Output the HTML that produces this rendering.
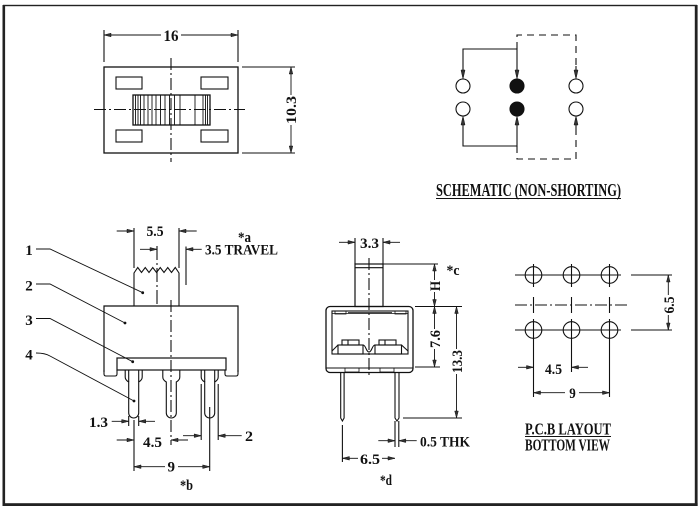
<!DOCTYPE html>
<html><head><meta charset="utf-8"><style>
html,body{margin:0;padding:0;background:#fff;}
svg{display:block;}
text{font-family:"Liberation Serif",serif;font-weight:bold;fill:#111;}
</style></head><body>
<svg width="700" height="509" viewBox="0 0 700 509" xmlns="http://www.w3.org/2000/svg">
<rect width="700" height="509" fill="#fff"/>
<!-- frame -->
<g fill="#222">
<rect x="3" y="4.8" width="694" height="1.4"/>
<rect x="2.5" y="5" width="2.6" height="501"/>
<rect x="694.8" y="5" width="2.8" height="501"/>
<rect x="3" y="503.2" width="694.6" height="2.8"/>
</g>

<g stroke="#111" fill="none" stroke-width="1.1">
<!-- ===== TOP VIEW ===== -->
<line x1="104" y1="30" x2="104" y2="62"/>
<line x1="238" y1="30" x2="238" y2="62"/>
<line x1="104" y1="35" x2="161" y2="35" stroke-width="0.9"/>
<line x1="181" y1="35" x2="238" y2="35" stroke-width="0.9"/>
<rect x="104" y="67" width="134" height="86" stroke-width="1.3"/>
<rect x="116" y="77" width="26" height="12"/>
<rect x="201" y="77" width="27" height="12"/>
<rect x="116" y="130" width="26" height="12"/>
<rect x="201" y="130" width="27" height="12"/>
<rect x="133" y="95" width="77" height="30" stroke-width="1.3"/>
<g stroke-width="0.9">
<line x1="135.5" y1="95" x2="135.5" y2="125"/>
<line x1="138" y1="95" x2="138" y2="125"/>
<line x1="140.5" y1="95" x2="140.5" y2="125"/>
<line x1="144" y1="95" x2="144" y2="125"/>
<line x1="148" y1="95" x2="148" y2="125"/>
<line x1="152" y1="95" x2="152" y2="125"/>
<line x1="156" y1="95" x2="156" y2="125"/>
<line x1="160.5" y1="95" x2="160.5" y2="125"/>
<line x1="165" y1="95" x2="165" y2="125"/>
<line x1="169.5" y1="95" x2="169.5" y2="125"/>
<line x1="174.5" y1="95" x2="174.5" y2="125"/>
<line x1="180" y1="95" x2="180" y2="125"/>
<line x1="195" y1="95" x2="195" y2="125"/>
<line x1="203" y1="95" x2="203" y2="125"/>
<line x1="205.5" y1="95" x2="205.5" y2="125"/>
<line x1="207.5" y1="95" x2="207.5" y2="125"/>
</g>
<line x1="171" y1="58" x2="171" y2="162" stroke-dasharray="12,3,2,3"/>
<line x1="94" y1="109.5" x2="245" y2="109.5" stroke-dasharray="12,3,2,3"/>
<line x1="242" y1="67" x2="295" y2="67"/>
<line x1="242" y1="153" x2="295" y2="153"/>
<line x1="291" y1="67" x2="291" y2="95" stroke-width="0.9"/>
<line x1="291" y1="125" x2="291" y2="153" stroke-width="0.9"/>

<!-- ===== SCHEMATIC ===== -->
<path d="M463,77 V49 H517 V77"/>
<path d="M517,49 V35 H576 V66" stroke-dasharray="7,5"/>
<line x1="576" y1="66" x2="576" y2="77"/>
<path d="M463,118 V146 H517 V118"/>
<path d="M517,146 V159 H576 V129" stroke-dasharray="7,5"/>
<line x1="576" y1="129" x2="576" y2="118"/>
<circle cx="463" cy="86" r="7"/>
<circle cx="576" cy="86" r="7"/>
<circle cx="463" cy="109" r="7"/>
<circle cx="576" cy="109" r="7"/>
<circle cx="517" cy="86" r="7" fill="#111"/>
<circle cx="517" cy="109" r="7" fill="#111"/>
<line x1="436" y1="198.5" x2="621" y2="198.5"/>

<!-- ===== SIDE VIEW ===== -->
<!-- leaders -->
<path d="M36,249 H50 L142.7,292.7" stroke-width="0.9"/>
<path d="M36,284 H50 L125,323" stroke-width="0.9"/>
<path d="M36,318.5 H50 L132.7,361.7" stroke-width="0.9"/>
<path d="M36,353 Q45,353 50,356 L134,401" stroke-width="0.9"/>
<!-- actuator -->
<polyline points="134,306 134,273 137.75,267.5 141.5,272.5 145.25,267.5 149,272.5 152.75,267.5 156.5,272.5 160.25,267.5 164,272.5 167.75,267.5 171.5,272.5 175.25,267.5 179,273 179,306"/>
<line x1="157" y1="246" x2="157" y2="306" stroke-dasharray="14,3,2,3"/>
<line x1="186" y1="246.5" x2="186" y2="285"/>
<!-- body -->
<path d="M104,372 V306 H238 V372" stroke-width="1.2"/>
<rect x="117" y="358" width="109" height="12" stroke-width="1.2"/>
<path d="M104,370 V374 Q104,376 106,376 H115 Q117,376 117,374 V370"/>
<path d="M225,370 V374 Q225,376 227,376 H236 Q238,376 238,374 V370"/>
<line x1="171" y1="300" x2="171" y2="445" stroke-dasharray="12,3,2,3"/>
<!-- pins -->
<path d="M125.2,370 V377 Q125.2,380 128.7,382 V413 A5,5 0 0 0 138.7,413 V382 Q142.2,380 142.2,377 V370"/>
<line x1="128.7" y1="370" x2="128.7" y2="382"/><line x1="138.7" y1="370" x2="138.7" y2="382"/>
<path d="M162.8,370 V377 Q162.8,380 166.3,382 V413 A5,5 0 0 0 176.3,413 V382 Q179.8,380 179.8,377 V370"/>
<path d="M201.2,370 V377 Q201.2,380 204.7,382 V413 A5,5 0 0 0 214.7,413 V382 Q218.2,380 218.2,377 V370"/>
<line x1="204.7" y1="370" x2="204.7" y2="382"/><line x1="214.7" y1="370" x2="214.7" y2="382"/>
<!-- side dims -->
<line x1="134" y1="228" x2="134" y2="268"/>
<line x1="179" y1="228" x2="179" y2="268"/>
<line x1="116.7" y1="231" x2="134" y2="231" stroke-width="0.9"/>
<line x1="196.7" y1="231" x2="179" y2="231" stroke-width="0.9"/>
<line x1="140" y1="249.3" x2="157" y2="249.3" stroke-width="0.9"/>
<line x1="201.7" y1="249.3" x2="186" y2="249.3" stroke-width="0.9"/>
<line x1="128.7" y1="416" x2="128.7" y2="426"/>
<line x1="138.7" y1="416" x2="138.7" y2="426"/>
<line x1="111.7" y1="421.3" x2="128.7" y2="421.3" stroke-width="0.9"/>
<line x1="155" y1="421.3" x2="138.7" y2="421.3" stroke-width="0.9"/>
<line x1="134" y1="420" x2="134" y2="471"/>
<line x1="209.7" y1="407" x2="209.7" y2="471"/>
<line x1="116.7" y1="440" x2="134" y2="440" stroke-width="0.9"/>
<line x1="188" y1="440" x2="171" y2="440" stroke-width="0.9"/>
<line x1="201.2" y1="384" x2="201.2" y2="440"/>
<line x1="218.2" y1="384" x2="218.2" y2="440"/>
<line x1="183" y1="435.7" x2="201.2" y2="435.7" stroke-width="0.9"/>
<line x1="241.7" y1="435.7" x2="218.2" y2="435.7" stroke-width="0.9"/>
<line x1="134" y1="466.7" x2="165" y2="466.7" stroke-width="0.9"/>
<line x1="178" y1="466.7" x2="209.7" y2="466.7" stroke-width="0.9"/>

<!-- ===== MIDDLE VIEW ===== -->
<rect x="355" y="264" width="28" height="42.5" stroke-width="1.2"/>
<line x1="355" y1="267.7" x2="383" y2="267.7"/>
<line x1="369" y1="258" x2="369" y2="378" stroke-dasharray="12,3,2,3"/>
<line x1="355" y1="238" x2="355" y2="264"/>
<line x1="383" y1="238" x2="383" y2="264"/>
<line x1="339" y1="242.3" x2="355" y2="242.3" stroke-width="0.9"/>
<line x1="400" y1="242.3" x2="383" y2="242.3" stroke-width="0.9"/>
<rect x="326" y="306.5" width="87" height="66" rx="4" stroke-width="1.3"/>
<rect x="332" y="311" width="76" height="43"/>
<line x1="332" y1="313.5" x2="408" y2="313.5" stroke-width="0.8"/>
<rect x="335" y="311" width="11" height="3" stroke-width="0.8"/>
<rect x="395" y="311" width="11" height="3" stroke-width="0.8"/>
<line x1="348" y1="312.7" x2="392" y2="312.7" stroke-width="0.8"/>
<line x1="326" y1="368" x2="413" y2="368"/>
<path d="M332,351 L338,345"/>
<path d="M408,351 L401.5,345"/>
<rect x="338" y="345" width="25" height="9"/>
<rect x="342" y="340" width="17" height="5"/>
<line x1="348" y1="340" x2="348" y2="345"/>
<rect x="375" y="345" width="26.5" height="9"/>
<rect x="379" y="340" width="17" height="5"/>
<line x1="385" y1="340" x2="385" y2="345"/>
<path d="M363,345 C366,345 366,352 369,352 C372,352 372,345 375,345"/>
<rect x="345" y="368" width="14" height="4" stroke-width="0.8"/>
<rect x="380" y="368" width="14" height="4" stroke-width="0.8"/>
<!-- pins -->
<path d="M340.7,372 V418 L342.4,421 L344.1,418 V372"/>
<path d="M395,372 V418 L397,421 L399,418 V372"/>
<!-- dims -->
<line x1="383" y1="264" x2="438" y2="264"/>
<line x1="415" y1="306.5" x2="462" y2="306.5"/>
<line x1="415" y1="367" x2="440" y2="367"/>
<line x1="403" y1="418" x2="462" y2="418"/>
<line x1="434.5" y1="264" x2="434.5" y2="280" stroke-width="0.9"/>
<line x1="434.5" y1="292" x2="434.5" y2="329" stroke-width="0.9"/>
<line x1="434.5" y1="349" x2="434.5" y2="367" stroke-width="0.9"/>
<line x1="456.5" y1="306.5" x2="456.5" y2="349" stroke-width="0.9"/>
<line x1="456.5" y1="374" x2="456.5" y2="418" stroke-width="0.9"/>
<line x1="395" y1="421" x2="395" y2="447"/>
<line x1="398.8" y1="421" x2="398.8" y2="447"/>
<line x1="378.3" y1="440.7" x2="395" y2="440.7" stroke-width="0.9"/>
<line x1="416.7" y1="440.7" x2="398.8" y2="440.7" stroke-width="0.9"/>
<line x1="342.4" y1="425" x2="342.4" y2="462"/>
<line x1="342.4" y1="458.3" x2="358" y2="458.3" stroke-width="0.9"/>
<line x1="382" y1="458.3" x2="395" y2="458.3" stroke-width="0.9"/>

<!-- ===== PCB ===== -->
<line x1="515" y1="275" x2="621" y2="275"/>
<line x1="631" y1="275" x2="672" y2="275"/>
<line x1="515" y1="330" x2="621" y2="330"/>
<line x1="631" y1="330" x2="672" y2="330"/>
<line x1="515" y1="305" x2="630" y2="305" stroke-dasharray="12,3,2,3"/>
<circle cx="533.5" cy="275" r="8.3"/>
<circle cx="571.5" cy="275" r="8.3"/>
<circle cx="609.5" cy="275" r="8.3"/>
<circle cx="533.5" cy="330" r="8.3"/>
<circle cx="571.5" cy="330" r="8.3"/>
<circle cx="609.5" cy="330" r="8.3"/>
<line x1="533.5" y1="264" x2="533.5" y2="287"/>
<line x1="571.5" y1="264" x2="571.5" y2="287"/>
<line x1="609.5" y1="264" x2="609.5" y2="287"/>
<line x1="533.5" y1="297" x2="533.5" y2="313"/>
<line x1="571.5" y1="297" x2="571.5" y2="313"/>
<line x1="609.5" y1="297" x2="609.5" y2="313"/>
<line x1="533.5" y1="319" x2="533.5" y2="397"/>
<line x1="571.5" y1="319" x2="571.5" y2="372"/>
<line x1="609.5" y1="319" x2="609.5" y2="397"/>
<line x1="668.3" y1="275" x2="668.3" y2="295" stroke-width="0.9"/>
<line x1="668.3" y1="315" x2="668.3" y2="330" stroke-width="0.9"/>
<line x1="518" y1="367.3" x2="533.5" y2="367.3" stroke-width="0.9"/>
<line x1="588" y1="367.3" x2="571.5" y2="367.3" stroke-width="0.9"/>
<line x1="533.5" y1="392.7" x2="565" y2="392.7" stroke-width="0.9"/>
<line x1="579" y1="392.7" x2="609.5" y2="392.7" stroke-width="0.9"/>
<line x1="525" y1="436.5" x2="611" y2="436.5"/>
</g>

<!-- dots -->
<g fill="#111">
<circle cx="142.7" cy="292.7" r="1.4"/>
<circle cx="125" cy="323" r="1.4"/>
<circle cx="132.7" cy="361.7" r="1.4"/>
<circle cx="134" cy="401" r="1.4"/>
</g>

<!-- arrowheads -->
<g fill="#333" stroke="#111" stroke-width="0.5">
<!-- top view -->
<polygon points="104,35 111,33.2 111,36.8"/>
<polygon points="238,35 231,33.2 231,36.8"/>
<polygon points="291,67 289.2,74 292.8,74"/>
<polygon points="291,153 289.2,146 292.8,146"/>
<!-- schematic -->
<polygon points="463,79 461,70 465,70"/>
<polygon points="517,79 515,70 519,70"/>
<polygon points="576,79 574,70 578,70"/>
<polygon points="463,116 461,125 465,125"/>
<polygon points="517,116 515,125 519,125"/>
<polygon points="576,116 574,125 578,125"/>
<!-- side view -->
<polygon points="134,231 127,229.2 127,232.8"/>
<polygon points="179,231 186,229.2 186,232.8"/>
<polygon points="157,249.3 150,247.5 150,251.1"/>
<polygon points="186,249.3 193,247.5 193,251.1"/>
<polygon points="128.7,421.3 121.7,419.5 121.7,423.1"/>
<polygon points="138.7,421.3 145.7,419.5 145.7,423.1"/>
<polygon points="134,440 127,438.2 127,441.8"/>
<polygon points="171,440 178,438.2 178,441.8"/>
<polygon points="201.2,435.7 194.2,433.9 194.2,437.5"/>
<polygon points="218.2,435.7 225.2,433.9 225.2,437.5"/>
<polygon points="134,466.7 141,464.9 141,468.5"/>
<polygon points="209.7,466.7 202.7,464.9 202.7,468.5"/>
<!-- middle -->
<polygon points="355,242.3 348,240.5 348,244.1"/>
<polygon points="383,242.3 390,240.5 390,244.1"/>
<polygon points="434.5,264 432.7,271 436.3,271"/>
<polygon points="434.5,306.5 432.7,299.5 436.3,299.5"/>
<polygon points="434.5,306.5 432.7,313.5 436.3,313.5"/>
<polygon points="434.5,367 432.7,360 436.3,360"/>
<polygon points="456.5,306.5 454.7,313.5 458.3,313.5"/>
<polygon points="456.5,418 454.7,411 458.3,411"/>
<polygon points="395,440.7 388,438.9 388,442.5"/>
<polygon points="398.8,440.7 405.8,438.9 405.8,442.5"/>
<polygon points="342.4,458.3 349.4,456.5 349.4,460.1"/>
<polygon points="395,458.3 388,456.5 388,460.1"/>
<!-- pcb -->
<polygon points="668.3,275 666.5,282 670.1,282"/>
<polygon points="668.3,330 666.5,323 670.1,323"/>
<polygon points="533.5,367.3 526.5,365.5 526.5,369.1"/>
<polygon points="571.5,367.3 578.5,365.5 578.5,369.1"/>
<polygon points="533.5,392.7 540.5,390.9 540.5,394.5"/>
<polygon points="609.5,392.7 602.5,390.9 602.5,394.5"/>
</g>

<!-- text -->
<g font-size="15">
<rect x="161" y="29" width="20" height="13" fill="#fff"/>
<text x="171" y="41" text-anchor="middle" textLength="15" lengthAdjust="spacingAndGlyphs" font-size="16">16</text>
<text transform="translate(291,110) rotate(-90)" x="0" y="5" text-anchor="middle" textLength="28" lengthAdjust="spacingAndGlyphs">10.3</text>
<text x="436" y="196" textLength="185" lengthAdjust="spacingAndGlyphs" font-size="18">SCHEMATIC (NON-SHORTING)</text>

<text x="29" y="255" text-anchor="middle">1</text>
<text x="29" y="290.5" text-anchor="middle">2</text>
<text x="29" y="325" text-anchor="middle">3</text>
<text x="29" y="359.5" text-anchor="middle">4</text>
<text x="155" y="236" text-anchor="middle" textLength="17" lengthAdjust="spacingAndGlyphs">5.5</text>
<text x="205" y="254.5" textLength="73" lengthAdjust="spacingAndGlyphs">3.5 TRAVEL</text>
<text x="238" y="242" textLength="13" lengthAdjust="spacingAndGlyphs">*a</text>
<text x="89" y="427" textLength="19" lengthAdjust="spacingAndGlyphs">1.3</text>
<text x="143" y="447" textLength="19" lengthAdjust="spacingAndGlyphs">4.5</text>
<text x="245" y="441" textLength="8" lengthAdjust="spacingAndGlyphs">2</text>
<text x="171.3" y="471.5" text-anchor="middle" textLength="7.5" lengthAdjust="spacingAndGlyphs">9</text>
<text x="180" y="490" textLength="13" lengthAdjust="spacingAndGlyphs">*b</text>

<text x="369.5" y="248" text-anchor="middle" textLength="19" lengthAdjust="spacingAndGlyphs">3.3</text>
<text x="446.5" y="275" textLength="13" lengthAdjust="spacingAndGlyphs">*c</text>
<text transform="translate(435,286) rotate(-90)" x="0" y="5" text-anchor="middle" textLength="10" lengthAdjust="spacingAndGlyphs">H</text>
<text transform="translate(435,339) rotate(-90)" x="0" y="5" text-anchor="middle" textLength="18" lengthAdjust="spacingAndGlyphs">7.6</text>
<text transform="translate(457,361.5) rotate(-90)" x="0" y="5" text-anchor="middle" textLength="23" lengthAdjust="spacingAndGlyphs">13.3</text>
<text x="420" y="446.5" textLength="50" lengthAdjust="spacingAndGlyphs">0.5 THK</text>
<text x="370" y="464" text-anchor="middle" textLength="20" lengthAdjust="spacingAndGlyphs">6.5</text>
<text x="380" y="485" textLength="12" lengthAdjust="spacingAndGlyphs">*d</text>

<text transform="translate(669,305) rotate(-90)" x="0" y="5" text-anchor="middle" textLength="17" lengthAdjust="spacingAndGlyphs">6.5</text>
<text x="545" y="374" textLength="17" lengthAdjust="spacingAndGlyphs">4.5</text>
<text x="572.5" y="398" text-anchor="middle" textLength="6.5" lengthAdjust="spacingAndGlyphs">9</text>
<text x="525" y="434.5" textLength="86" lengthAdjust="spacingAndGlyphs" font-size="16.5">P.C.B LAYOUT</text>
<text x="525" y="450.5" textLength="85" lengthAdjust="spacingAndGlyphs" font-size="16.5">BOTTOM VIEW</text>
</g>
</svg>
</body></html>
